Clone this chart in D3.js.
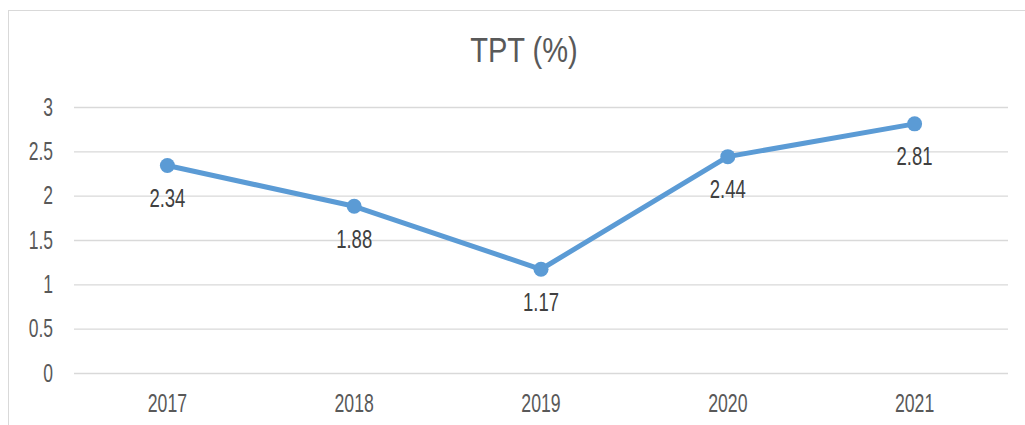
<!DOCTYPE html>
<html>
<head>
<meta charset="utf-8">
<script src="https://cdn.jsdelivr.net/npm/d3@7"></script>
<style>
  body { margin: 0; background: #fff; }
  text { font-family: "Liberation Sans", Arial, sans-serif; }
</style>
</head>
<body>
<div id="chart"></div>
<script>
// chart data
const years = ["2017", "2018", "2019", "2020", "2021"];
const tpt = [2.34, 1.88, 1.17, 2.44, 2.81];
const yTicks = [0, 0.5, 1, 1.5, 2, 2.5, 3];

const W = 1025, H = 425;
const margin = {top: 107, right: 17, bottom: 52, left: 74};
const width = W - margin.left - margin.right;
const height = H - margin.top - margin.bottom;

// squeeze text horizontally (the source font is narrow)
function narrow(sel, k) {
  sel.each(function() {
    const len = this.getComputedTextLength();
    d3.select(this)
      .attr("textLength", len * k)
      .attr("lengthAdjust", "spacingAndGlyphs");
  });
}

const svg = d3.select("#chart")
  .append("svg")
    .attr("width", W)
    .attr("height", H);

// outer chart border (only top/left visible in frame)
svg.append("rect")
    .attr("x", 8.5)
    .attr("y", 10.5)
    .attr("width", W + 20)
    .attr("height", H + 20)
    .attr("fill", "none")
    .attr("stroke", "#d9d9d9");

const g = svg.append("g")
    .attr("transform", `translate(${margin.left}, ${margin.top})`);

const x = d3.scaleBand().domain(years).range([0, width]);
const y = d3.scaleLinear().domain([0, 3]).range([height, 0]);

// horizontal grid lines
g.append("g")
  .call(d3.axisLeft(y).tickValues(yTicks).tickSize(-width).tickFormat(""))
  .call(a => a.select(".domain").remove())
  .selectAll("line")
    .attr("stroke", "#d9d9d9")
    .attr("stroke-width", 1.3);

// y axis labels
g.append("g")
  .call(d3.axisLeft(y).tickValues(yTicks).tickSize(0).tickPadding(21).tickFormat(d3.format("")))
  .call(a => a.select(".domain").remove())
  .selectAll("text")
    .attr("fill", "#595959")
    .style("font-size", "25px")
    .style("font-family", "'Liberation Sans', Arial, sans-serif")
    .call(narrow, 0.7);

// x axis labels
g.append("g")
    .attr("transform", `translate(0, ${height})`)
  .call(d3.axisBottom(x).tickSize(0).tickPadding(21))
  .call(a => a.select(".domain").remove())
  .selectAll("text")
    .attr("dy", null)
    .attr("y", 39)
    .attr("fill", "#595959")
    .style("font-size", "26px")
    .style("font-family", "'Liberation Sans', Arial, sans-serif")
    .call(narrow, 0.68);

const cx = (d, i) => x(years[i]) + x.bandwidth() / 2;

// the line
g.append("path")
  .datum(tpt)
    .attr("fill", "none")
    .attr("stroke", "#5b9bd5")
    .attr("stroke-width", 5)
    .attr("stroke-linejoin", "round")
    .attr("d", d3.line().x(cx).y(d => y(d)));

// markers
g.selectAll("circle")
  .data(tpt)
  .join("circle")
    .attr("cx", cx)
    .attr("cy", d => y(d))
    .attr("r", 7.5)
    .attr("fill", "#5b9bd5");

// data labels
g.selectAll(".val")
  .data(tpt)
  .join("text")
    .attr("class", "val")
    .attr("x", cx)
    .attr("y", d => y(d) + 41.5)
    .attr("text-anchor", "middle")
    .attr("fill", "#404040")
    .style("font-size", "25px")
    .text(d => d)
    .call(narrow, 0.74);

// title
svg.append("text")
    .attr("x", 524)
    .attr("y", 62)
    .attr("text-anchor", "middle")
    .attr("fill", "#595959")
    .style("font-size", "35px")
    .text("TPT (%)")
    .call(narrow, 0.83);
</script>
</body>
</html>
